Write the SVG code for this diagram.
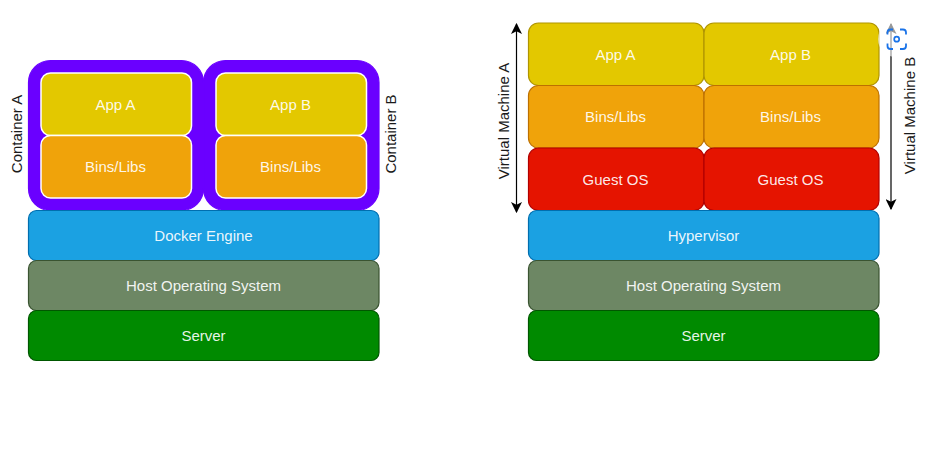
<svg xmlns="http://www.w3.org/2000/svg" width="935" height="450" viewBox="0 0 935 450">
<style>
text{font-family:"Liberation Sans",Arial,sans-serif;font-size:15px;text-anchor:middle}
.w{fill:#fff;fill-opacity:.92}.k{fill:#1a1a1a}
rect{stroke-width:1.200}
.y{fill:#e3c800;stroke:#b09500}.o{fill:#f0a30a;stroke:#bd7000}.r{fill:#e51400;stroke:#b20000}
.b{fill:#1ba1e2;stroke:#006eaf}.g{fill:#6d8764;stroke:#3a5431}.s{fill:#008a00;stroke:#005700}
.yw{fill:#e3c800;stroke:#fff;stroke-width:1.500}.ow{fill:#f0a30a;stroke:#fff;stroke-width:1.500}
.c{fill:#6a00ff;stroke:#6a00ff}
.a{stroke:#000;stroke-width:1.200;fill:none;marker-start:url(#m);marker-end:url(#m)}
</style>
<defs><marker id="m" viewBox="0 0 10 10" refX="9" refY="5" markerWidth="11" markerHeight="11" markerUnits="userSpaceOnUse" orient="auto-start-reverse"><path d="M0 0L10 5L0 10L2.500 5Z" fill="#000"/></marker></defs>
<rect width="935" height="450" fill="#fff" style="stroke:none"/>
<g id="container-a"><rect class="c" x="28.500" y="60.500" width="175" height="150" rx="22"/></g>
<g id="container-b"><rect class="c" x="203.500" y="60.500" width="175.500" height="150" rx="22"/></g>
<g id="c-app-a"><rect class="yw" x="41" y="73" width="150.500" height="62.500" rx="9.500"/><text class="w" x="115.500" y="109.500">App A</text></g>
<g id="c-bins-a"><rect class="ow" x="41" y="135.500" width="150.500" height="62.500" rx="9.500"/><text class="w" x="115.500" y="172">Bins/Libs</text></g>
<g id="c-app-b"><rect class="yw" x="216" y="73" width="150.500" height="62.500" rx="9.500"/><text class="w" x="290.500" y="109.500">App B</text></g>
<g id="c-bins-b"><rect class="ow" x="216" y="135.500" width="150.500" height="62.500" rx="9.500"/><text class="w" x="290.500" y="172">Bins/Libs</text></g>
<g id="docker"><rect class="b" x="28.500" y="210.500" width="350.500" height="50" rx="8"/><text class="w" x="203.500" y="241">Docker Engine</text></g>
<g id="host-l"><rect class="g" x="28.500" y="260.500" width="350.500" height="50" rx="8"/><text class="w" x="203.500" y="291">Host Operating System</text></g>
<g id="server-l"><rect class="s" x="28.500" y="310.500" width="350.500" height="50" rx="8"/><text class="w" x="203.500" y="341">Server</text></g>
<g id="label-ca"><text class="k" transform="translate(21.500 134) rotate(-90)">Container A</text></g>
<g id="label-cb"><text class="k" transform="translate(396 134) rotate(-90)">Container B</text></g>
<g id="v-app-a"><rect class="y" x="528.500" y="23" width="175.500" height="62.500" rx="10"/><text class="w" x="615.500" y="59.500">App A</text></g>
<g id="v-app-b"><rect class="y" x="704" y="23" width="175" height="62.500" rx="10"/><text class="w" x="790.500" y="59.500">App B</text></g>
<g id="v-bins-a"><rect class="o" x="528.500" y="85.500" width="175.500" height="62.500" rx="10"/><text class="w" x="615.500" y="122">Bins/Libs</text></g>
<g id="v-bins-b"><rect class="o" x="704" y="85.500" width="175" height="62.500" rx="10"/><text class="w" x="790.500" y="122">Bins/Libs</text></g>
<g id="v-os-a"><rect class="r" x="528.500" y="148" width="175.500" height="62.500" rx="10"/><text class="w" x="615.500" y="184.500">Guest OS</text></g>
<g id="v-os-b"><rect class="r" x="704" y="148" width="175" height="62.500" rx="10"/><text class="w" x="790.500" y="184.500">Guest OS</text></g>
<g id="hyper"><rect class="b" x="528.500" y="210.500" width="350.500" height="50" rx="8"/><text class="w" x="703.500" y="241">Hypervisor</text></g>
<g id="host-r"><rect class="g" x="528.500" y="260.500" width="350.500" height="50" rx="8"/><text class="w" x="703.500" y="291">Host Operating System</text></g>
<g id="server-r"><rect class="s" x="528.500" y="310.500" width="350.500" height="50" rx="8"/><text class="w" x="703.500" y="341">Server</text></g>
<g id="label-va"><text class="k" transform="translate(508.500 121) rotate(-90)">Virtual Machine A</text></g>
<g id="label-vb"><text class="k" transform="translate(914.500 115.500) rotate(-90)">Virtual Machine B</text></g>
<g id="connectors">
<path class="a" d="M516.500 24V212"/>
<path class="a" d="M891 24V209"/>
</g>
<g id="scan-icon">
<circle cx="896" cy="39" r="18" fill="#fff" fill-opacity=".6"/>
<path d="M887.500 34.500V32.500A3 3 0 0 1 890.500 29.500H893M900 29.500H903A3 3 0 0 1 906 32.500V34.500M906 43.500V46A3 3 0 0 1 903 49H900M893 49H890.500A3 3 0 0 1 887.500 46V43.500" fill="none" stroke="#1a73e8" stroke-width="1.800"/>
<circle cx="896.700" cy="39.200" r="2.500" fill="none" stroke="#1a73e8" stroke-width="1.700"/>
</g>
</svg>
